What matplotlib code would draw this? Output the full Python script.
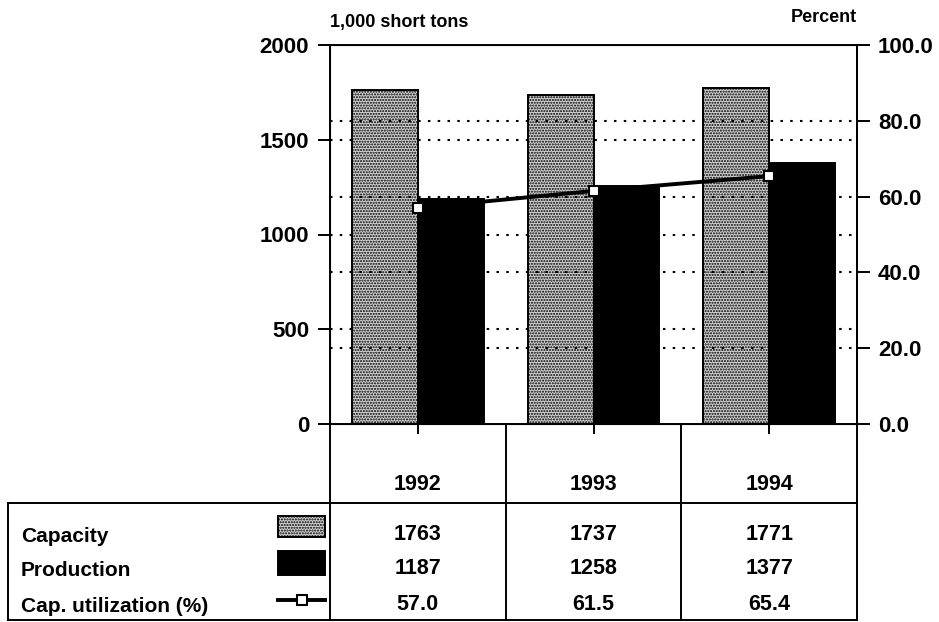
import numpy as np
import matplotlib
matplotlib.use("Agg")
import matplotlib.pyplot as plt
import matplotlib.transforms as mtransforms
from matplotlib.patches import Rectangle
from matplotlib.lines import Line2D

# ── data ───────────────────────────────────────────────────────────────────
years = ["1992", "1993", "1994"]
capacity = [1763, 1737, 1771]
production = [1187, 1258, 1377]
utilization = [57.0, 61.5, 65.4]
row_labels = ["Capacity", "Production", "Cap. utilization (%)"]
left_ticks = [0, 500, 1000, 1500, 2000]
right_ticks = [0, 20, 40, 60, 80, 100]

plt.rcParams["font.family"] = ["Liberation Sans", "DejaVu Sans"]
plt.rcParams["font.weight"] = "bold"
plt.rcParams["hatch.linewidth"] = 1.0
plt.rcParams["hatch.color"] = "#2a2a2a"

W, H = 939, 622
fig = plt.figure(figsize=(W / 100, H / 100), dpi=100)

# overlay axes in pixel coordinates for the table below the chart
tab = fig.add_axes([0, 0, 1, 1])
tab.set_xlim(0, W)
tab.set_ylim(H, 0)
tab.axis("off")

# main chart axes (pixel box: x 330..857, y 45..424)
ax = fig.add_axes([330 / W, (H - 424) / H, 527 / W, 379 / H])
ax.patch.set_alpha(0)
x = np.arange(len(years))
bw = 0.375
stipple = "#d0d0d0"

dots = (0, (1.2, 3.5))
for v in [500, 1000, 1500]:
    ax.axhline(v, color="black", lw=1.5, ls=dots, zorder=0)

ax.bar(x - bw / 2, capacity, bw, color=stipple, hatch="......",
       edgecolor="black", linewidth=1.4, zorder=2)
ax.bar(x + bw / 2, production, bw, color="black", edgecolor="black",
       linewidth=1.4, zorder=2)

ax.set_xlim(-0.5, 2.5)
ax.set_ylim(0, 2000)
ax.set_yticks(left_ticks)
ax.set_yticklabels([str(t) for t in left_ticks], fontsize=16)
ax.set_xticks(x)
ax.set_xticklabels([])
ax.tick_params(axis="y", direction="out", length=9, width=1.4, pad=6)
ax.tick_params(axis="x", direction="out", length=7, width=1.4)
for s in ax.spines.values():
    s.set_linewidth(1.4)

ax2 = ax.twinx()
ax2.set_ylim(0, 100)
for v in [20, 40, 60, 80]:
    ax2.axhline(v, color="black", lw=1.5, ls=dots, zorder=0)
ax2.plot(x, utilization, color="black", lw=2.8, marker="s", ms=6.5,
         mfc="white", mec="black", mew=1.5, zorder=5)
ax2.set_yticks(right_ticks)
ax2.set_yticklabels([f"{t:.1f}" for t in right_ticks], fontsize=16)
ax2.tick_params(axis="y", direction="out", length=9, width=1.4, pad=6)
ax2.spines["right"].set_linewidth(1.4)
ax.set_zorder(1)
ax2.set_zorder(2)
ax2.patch.set_alpha(0)

fig.text(330 / W, 1 - 22 / H, "1,000 short tons", fontsize=13,
         fontweight="bold", ha="left", va="center")
fig.text(857 / W, 1 - 18 / H, "Percent", fontsize=13,
         fontweight="bold", ha="right", va="center")

# ── table ───────────────────────────────────────────────────────────────────
tr = mtransforms.blended_transform_factory(ax.transData, tab.transData)
lw = 1.4
for b in [-0.5, 0.5, 1.5, 2.5]:
    tab.add_line(Line2D([b, b], [424, 620], color="black", lw=lw, transform=tr))
tab.add_line(Line2D([8, 857], [503, 503], color="black", lw=lw))
tab.add_line(Line2D([8, 857], [620, 620], color="black", lw=lw))
tab.add_line(Line2D([8, 8], [503, 620], color="black", lw=lw))

row_y = [535, 569, 604]
for i, yr in enumerate(years):
    tab.text(x[i], 484, yr, fontsize=15.5, ha="center", va="center", transform=tr)
    tab.text(x[i], row_y[0], str(capacity[i]), fontsize=15.5, ha="center",
             va="center", transform=tr)
    tab.text(x[i], row_y[1], str(production[i]), fontsize=15.5, ha="center",
             va="center", transform=tr)
    tab.text(x[i], row_y[2], f"{utilization[i]:.1f}", fontsize=15.5, ha="center",
             va="center", transform=tr)

for lab, yy in zip(row_labels, row_y):
    tab.text(21, yy + 2, lab, fontsize=15, ha="left", va="center")

tab.add_patch(Rectangle((278, 516), 47, 21, facecolor=stipple, hatch="......",
                        edgecolor="black", lw=1.4))
tab.add_patch(Rectangle((278, 551), 47, 24, facecolor="black",
                        edgecolor="black", lw=1.4))
tab.plot([278, 325], [600, 600], color="black", lw=2.8)
tab.plot([301.5], [600], marker="s", ms=6.5, mfc="white", mec="black", mew=1.5)

fig.savefig("out.png", dpi=100)
